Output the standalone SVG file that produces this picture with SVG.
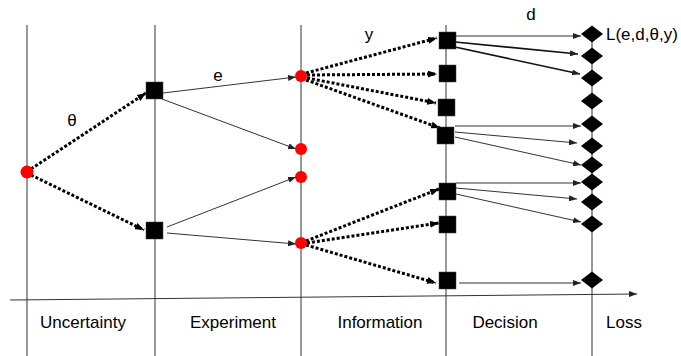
<svg xmlns="http://www.w3.org/2000/svg" width="681" height="356" viewBox="0 0 681 356">
<defs>
<marker id="ah" markerUnits="userSpaceOnUse" markerWidth="9" markerHeight="7" refX="9" refY="3.5" orient="auto"><path d="M0,0 L9,3.5 L0,7 z" fill="#000"/></marker>
<marker id="ahs" markerUnits="userSpaceOnUse" markerWidth="8" markerHeight="6" refX="8" refY="3" orient="auto"><path d="M0,0 L8,3 L0,6 z" fill="#222"/></marker>
</defs>
<style>
.axis{stroke:#333;stroke-width:1;fill:none}
.dot{stroke:#000;stroke-width:3;stroke-dasharray:3 2;fill:none;marker-end:url(#ah)}
.sol{stroke:#333;stroke-width:1;fill:none;marker-end:url(#ahs)}
.solb{stroke:#111;stroke-width:1.6;fill:none;marker-end:url(#ahs)}
.chance{fill:#ff0000}
.dec{fill:#000;stroke:#444;stroke-width:0.5}
.loss{fill:#000}
text{font-family:"Liberation Sans",Arial,sans-serif;font-size:17px;fill:#000}
.c{text-anchor:middle}
</style>
<rect width="681" height="356" fill="#fff"/>
<g id="grid">
<line class="axis" x1="27" y1="25" x2="27" y2="356"/>
<line class="axis" x1="155" y1="25" x2="155" y2="356"/>
<line class="axis" x1="301" y1="25" x2="301" y2="356"/>
<line class="axis" x1="446" y1="25" x2="446" y2="356"/>
<line class="axis" x1="592" y1="34" x2="592" y2="356"/>
<line class="axis" x1="10" y1="300" x2="637" y2="294" style="marker-end:url(#ahs)"/>
</g>
<g id="connectors">
<line class="dot" x1="31" y1="169" x2="146" y2="93"/>
<line class="dot" x1="31" y1="175" x2="144" y2="230"/>
<line class="sol" x1="163" y1="93" x2="296" y2="77"/>
<line class="sol" x1="162" y1="99" x2="296" y2="149"/>
<line class="sol" x1="167" y1="227" x2="296" y2="177"/>
<line class="sol" x1="167" y1="233" x2="296" y2="244"/>
<line class="dot" x1="306" y1="73" x2="437" y2="38"/>
<line class="dot" x1="307" y1="75" x2="437" y2="74"/>
<line class="dot" x1="307" y1="78" x2="436" y2="103"/>
<line class="dot" x1="306" y1="80" x2="440" y2="128"/>
<line class="dot" x1="306" y1="241" x2="439" y2="189"/>
<line class="dot" x1="307" y1="243" x2="439" y2="223"/>
<line class="dot" x1="306" y1="245" x2="436" y2="283"/>
<line class="sol" x1="455" y1="36" x2="581" y2="36"/>
<line class="solb" x1="455" y1="42" x2="578" y2="54"/>
<line class="solb" x1="455" y1="47" x2="580" y2="74"/>
<line class="sol" x1="455" y1="126" x2="581" y2="126"/>
<line class="sol" x1="455" y1="132" x2="577" y2="143"/>
<line class="sol" x1="455" y1="137" x2="581" y2="165"/>
<line class="sol" x1="456" y1="183" x2="581" y2="183"/>
<line class="sol" x1="456" y1="188" x2="577" y2="199"/>
<line class="sol" x1="456" y1="194" x2="581" y2="222"/>
<line class="sol" x1="459" y1="283" x2="581" y2="283"/>
</g>
<g id="root"><circle class="chance" cx="27" cy="172" r="6.5"/></g>
<g id="exp1"><rect class="dec" x="146" y="82" width="17" height="17"/></g>
<g id="exp2"><rect class="dec" x="146" y="222" width="17" height="17"/></g>
<g id="info1"><circle class="chance" cx="301" cy="76" r="6"/></g>
<g id="info2"><circle class="chance" cx="301" cy="149" r="6"/></g>
<g id="info3"><circle class="chance" cx="301" cy="177" r="6"/></g>
<g id="info4"><circle class="chance" cx="301" cy="243" r="6"/></g>
<g id="dec1"><rect class="dec" x="439" y="32" width="17" height="17"/></g>
<g id="dec2"><rect class="dec" x="439" y="65" width="17" height="17"/></g>
<g id="dec3"><rect class="dec" x="438" y="99" width="17" height="17"/></g>
<g id="dec4"><rect class="dec" x="437" y="127" width="17" height="17"/></g>
<g id="dec5"><rect class="dec" x="439" y="183" width="17" height="17"/></g>
<g id="dec6"><rect class="dec" x="439" y="216" width="17" height="17"/></g>
<g id="dec7"><rect class="dec" x="439" y="272" width="17" height="17"/></g>
<g id="loss1"><path class="loss" d="M581,34 L592,25.5 L603,34 L592,42.5 z"/></g>
<g id="loss2"><path class="loss" d="M581,56 L592,47.5 L603,56 L592,64.5 z"/></g>
<g id="loss3"><path class="loss" d="M581,78 L592,69.5 L603,78 L592,86.5 z"/></g>
<g id="loss4"><path class="loss" d="M581,101 L592,92.5 L603,101 L592,109.5 z"/></g>
<g id="loss5"><path class="loss" d="M581,124 L592,115.5 L603,124 L592,132.5 z"/></g>
<g id="loss6"><path class="loss" d="M581,146 L592,137.5 L603,146 L592,154.5 z"/></g>
<g id="loss7"><path class="loss" d="M581,165 L592,156.5 L603,165 L592,173.5 z"/></g>
<g id="loss8"><path class="loss" d="M581,182 L592,173.5 L603,182 L592,190.5 z"/></g>
<g id="loss9"><path class="loss" d="M581,202 L592,193.5 L603,202 L592,210.5 z"/></g>
<g id="loss10"><path class="loss" d="M581,224 L592,215.5 L603,224 L592,232.5 z"/></g>
<g id="loss11"><path class="loss" d="M581,280 L592,271.5 L603,280 L592,288.5 z"/></g>
<g id="labels">
<text class="c" x="72" y="126">θ</text>
<text class="c" x="218" y="81">e</text>
<text class="c" x="369" y="40">y</text>
<text class="c" x="531" y="20">d</text>
<text x="606" y="40">L(e,d,θ,y)</text>
<text class="c" x="83" y="328">Uncertainty</text>
<text class="c" x="233" y="328">Experiment</text>
<text class="c" x="380" y="328">Information</text>
<text class="c" x="505" y="328">Decision</text>
<text class="c" x="624" y="328">Loss</text>
</g>
</svg>
